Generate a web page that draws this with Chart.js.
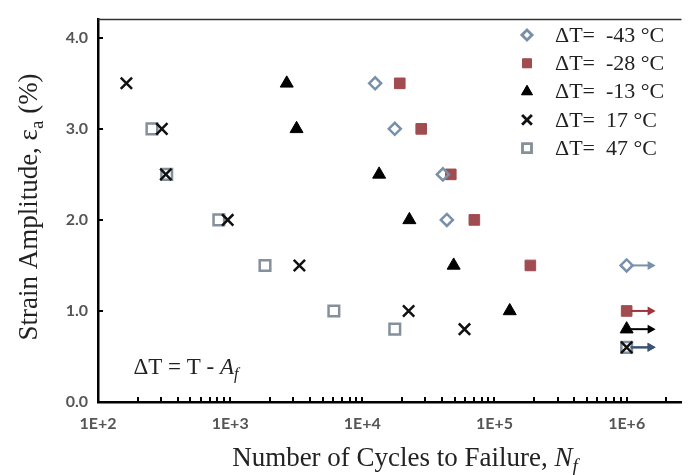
<!DOCTYPE html>
<html>
<head>
<meta charset="utf-8">
<script src="https://cdn.jsdelivr.net/npm/chart.js@4.4.1/dist/chart.umd.min.js"></script>
<style>
  html, body { margin: 0; padding: 0; background: #fff; }
  #wrap { width: 692px; height: 475px; }
</style>
</head>
<body>
<div id="wrap"><canvas id="fatigue" width="692" height="475"></canvas></div>
<script>
/* global Chart */

// cycles to failure (N_f) and strain amplitude (%) per test temperature
const cyclesM43 = [12500, 17600, 40700, 43600, 1e6]
const strainM43 = [3.5, 3.0, 2.5, 2.0, 1.5]

const cyclesM28 = [19200, 27900, 46700, 70400, 186800, 1e6]
const strainM28 = [3.5, 3.0, 2.5, 2.0, 1.5, 1.0]

const cyclesM13 = [2680, 3180, 13400, 22700, 49100, 130400, 1e6]
const strainM13 = [3.5, 3.0, 2.5, 2.0, 1.5, 1.0, 0.8]

const cyclesP17 = [164, 304, 326, 958, 3340, 22400, 59300, 1e6]
const strainP17 = [3.5, 3.0, 2.5, 2.0, 1.5, 1.0, 0.8, 0.6]

const cyclesP47 = [256, 331, 821, 1835, 6090, 17600, 1e6]
const strainP47 = [3.0, 2.5, 2.0, 1.5, 1.0, 0.8, 0.6]

const seriesLabels = ['ΔT=  -43 °C', 'ΔT=  -28 °C', 'ΔT=  -13 °C', 'ΔT=  17 °C', 'ΔT=  47 °C']
const xTickLabels = ['1E+2', '1E+3', '1E+4', '1E+5', '1E+6']
const yTickValues = [0, 1, 2, 3, 4]

// specimens that did not fail (run-outs) sit at this life
const RUNOUT = 1e6

const toPoints = (xs, ys) => xs.map((x, i) => ({ x, y: ys[i] }))

const SERIF = '"Liberation Serif", "DejaVu Serif", serif'

const styles = [
  { pointStyle: 'rectRot', radius: 6, color: '#7890aa', fill: 'rgba(0,0,0,0)', width: 2.5, arrow: '#7890aa' },
  { pointStyle: 'rect', radius: 7.5, color: '#a14c50', fill: '#a14c50', width: 1, arrow: '#a0343a' },
  { pointStyle: 'triangle', radius: 7.5, color: '#000', fill: '#000', width: 1, arrow: '#000' },
  { pointStyle: 'crossRot', radius: 8, color: '#111', fill: '#111', width: 2.5, arrow: '#3c5373' },
  { pointStyle: 'rect', radius: 7.5, color: '#84909c', fill: 'rgba(0,0,0,0)', width: 2.5, arrow: '#3c5373' }
]

const raw = [
  toPoints(cyclesM43, strainM43),
  toPoints(cyclesM28, strainM28),
  toPoints(cyclesM13, strainM13),
  toPoints(cyclesP17, strainP17),
  toPoints(cyclesP47, strainP47)
]

const datasets = raw.map((data, i) => ({
  label: seriesLabels[i],
  data,
  pointStyle: styles[i].pointStyle,
  pointRadius: styles[i].radius,
  pointBorderColor: styles[i].color,
  pointBackgroundColor: styles[i].fill,
  pointBorderWidth: styles[i].width,
  showLine: false
}))

// draws text made of pieces (italic, subscript) centred on x
function drawRich (ctx, parts, x, y, size) {
  const fontFor = p => `${p.italic ? 'italic ' : ''}${p.sub ? Math.round(size * 0.7) : size}px ${SERIF}`
  let total = 0
  parts.forEach(p => { ctx.font = fontFor(p); total += ctx.measureText(p.text).width })
  let cx = x - total / 2
  ctx.textAlign = 'left'
  ctx.textBaseline = 'alphabetic'
  parts.forEach(p => {
    ctx.font = fontFor(p)
    ctx.fillText(p.text, cx, y + (p.sub ? size * 0.22 : 0))
    cx += ctx.measureText(p.text).width
  })
}

const decorations = {
  id: 'decorations',
  afterDraw (chart) {
    const { ctx, chartArea: area, scales } = chart
    const xs = scales.x
    const ys = scales.y
    ctx.save()

    // top frame line
    ctx.strokeStyle = '#333'
    ctx.lineWidth = 1.5
    ctx.beginPath()
    ctx.moveTo(area.left, area.top)
    ctx.lineTo(area.right, area.top)
    ctx.stroke()

    // inward tick marks
    ctx.strokeStyle = '#000'
    ctx.lineWidth = 2
    xs.ticks.forEach(t => {
      const px = Math.round(xs.getPixelForValue(t.value))
      ctx.beginPath()
      ctx.moveTo(px, area.bottom)
      ctx.lineTo(px, area.bottom - 5)
      ctx.stroke()
    })
    yTickValues.forEach(v => {
      const py = Math.round(ys.getPixelForValue(v))
      ctx.beginPath()
      ctx.moveTo(area.left, py)
      ctx.lineTo(area.left + 5, py)
      ctx.stroke()
    })

    // run-out arrows
    chart.data.datasets.forEach((ds, i) => {
      const meta = chart.getDatasetMeta(i)
      ds.data.forEach((p, j) => {
        if (p.x !== RUNOUT) return
        const el = meta.data[j]
        const x0 = el.x + 4
        const x1 = el.x + 29
        ctx.strokeStyle = styles[i].arrow
        ctx.fillStyle = styles[i].arrow
        ctx.lineWidth = 2
        ctx.beginPath()
        ctx.moveTo(x0, el.y)
        ctx.lineTo(x1 - 6, el.y)
        ctx.stroke()
        ctx.beginPath()
        ctx.moveTo(x1, el.y)
        ctx.lineTo(x1 - 8, el.y - 4.5)
        ctx.lineTo(x1 - 8, el.y + 4.5)
        ctx.closePath()
        ctx.fill()
      })
    })

    // legend
    const lx = 527
    const ly = 35
    const step = 28.3
    chart.data.datasets.forEach((ds, i) => {
      const y = ly + i * step
      const s = styles[i]
      ctx.fillStyle = s.fill
      ctx.strokeStyle = s.color
      ctx.lineWidth = s.width
      Chart.helpers.drawPoint(ctx, { pointStyle: s.pointStyle, radius: s.radius * 0.85, borderWidth: s.width }, lx, y)
      ctx.fill()
      if (s.width > 1 || s.pointStyle === 'crossRot') ctx.stroke()
      ctx.fillStyle = '#222'
      ctx.font = `22px ${SERIF}`
      ctx.textAlign = 'left'
      ctx.textBaseline = 'middle'
      ctx.fillText(ds.label, 555, y + 1)
    })

    // note inside the plot
    ctx.fillStyle = '#222'
    drawRich(ctx, [
      { text: 'ΔT = T - ' },
      { text: 'A', italic: true },
      { text: 'f', italic: true, sub: true }
    ], 186, 374, 23)

    // axis titles
    drawRich(ctx, [
      { text: 'Number of Cycles to Failure, ' },
      { text: 'N', italic: true },
      { text: 'f', italic: true, sub: true }
    ], 405, 466, 27)

    ctx.translate(37, 207)
    ctx.rotate(-Math.PI / 2)
    drawRich(ctx, [
      { text: 'Strain Amplitude, ε' },
      { text: 'a', sub: true },
      { text: ' (%)' }
    ], 0, 0, 27)

    ctx.restore()
  }
}

const tickFont = { family: 'Lato, "Open Sans", sans-serif', size: 16, weight: 'bold' }

const chart = new Chart(document.getElementById('fatigue'), {
  type: 'scatter',
  data: { datasets },
  options: {
    responsive: false,
    animation: false,
    devicePixelRatio: 1,
    events: [],
    layout: { padding: { top: 8, right: 0, bottom: 0, left: 0 } },
    plugins: {
      legend: { display: false },
      tooltip: { enabled: false }
    },
    scales: {
      x: {
        type: 'logarithmic',
        min: 100,
        max: 2.6e6,
        grid: { display: false, drawTicks: false },
        border: { display: true, color: '#000', width: 2.5 },
        afterBuildTicks (scale) {
          const ticks = []
          for (let e = 2; e <= 6; e++) {
            for (let m = 1; m <= 9; m++) {
              const v = m * Math.pow(10, e)
              if (v <= scale.max) ticks.push({ value: v })
            }
          }
          scale.ticks = ticks
        },
        ticks: {
          autoSkip: false,
          maxRotation: 0,
          padding: 12,
          color: '#555',
          font: tickFont,
          callback (value) {
            const e = Math.log10(value)
            return Math.abs(e - Math.round(e)) < 1e-9 ? xTickLabels[Math.round(e) - 2] : ''
          }
        },
        afterFit (scale) { scale.height = 73 }
      },
      y: {
        min: 0,
        max: 4.2,
        grid: { display: false, drawTicks: false },
        border: { display: true, color: '#000', width: 2.5 },
        ticks: {
          stepSize: 1,
          includeBounds: false,
          padding: 10,
          color: '#555',
          font: tickFont,
          callback: value => Number.isInteger(value) ? value.toFixed(1) : ''
        },
        afterFit (scale) { scale.width = 98 }
      }
    }
  },
  plugins: [decorations]
})
</script>
</body>
</html>
